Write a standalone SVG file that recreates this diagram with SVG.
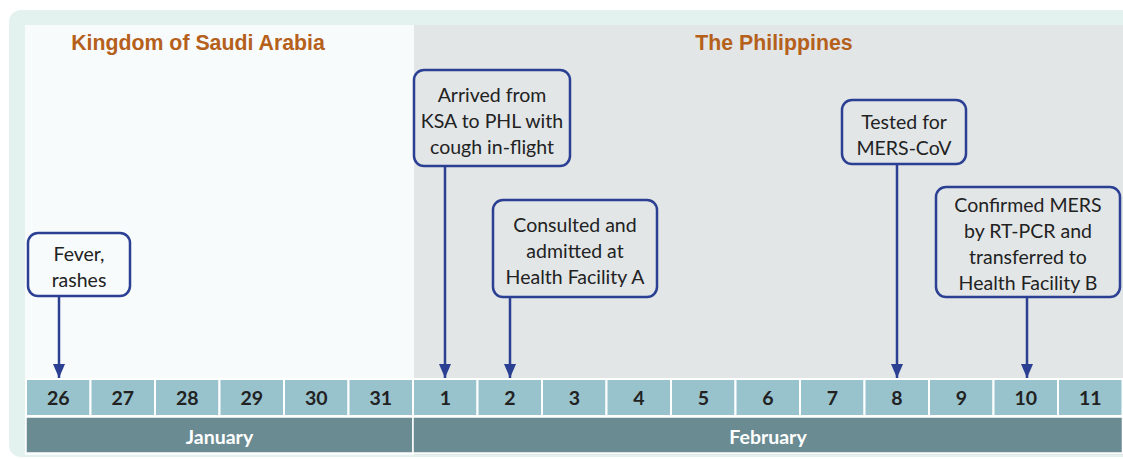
<svg xmlns="http://www.w3.org/2000/svg" width="1123" height="459" viewBox="0 0 1123 459">
<defs>
<style>
.box{fill:none;stroke:#2b3f93;stroke-width:2.5}
.bt{font-family:Lato,"Open Sans",sans-serif;font-size:19.5px;fill:#222;text-anchor:middle}
.hd{font-family:"Liberation Sans",Arial,sans-serif;font-size:21.3px;font-weight:bold;fill:#b5601b;text-anchor:middle}
.day{fill:#98c3cd;stroke:#fff;stroke-width:2}
.dt{font-family:Lato,"Open Sans",sans-serif;font-size:19.5px;font-weight:bold;fill:#222;text-anchor:middle}
.mo{fill:#6b8b92;stroke:#fff;stroke-width:1.5}
.mt{font-family:Lato,"Open Sans",sans-serif;font-size:19.5px;font-weight:bold;fill:#fff;text-anchor:middle}
.ln{stroke:#2b3f93;stroke-width:2.5;fill:none}
</style>
<marker id="ah" viewBox="0 0 14 12" refX="14" refY="6" markerWidth="14" markerHeight="12" markerUnits="userSpaceOnUse" orient="auto">
<path d="M0,0 L14,6 L0,12 Z" fill="#2b3f93"/>
</marker>
</defs>
<rect x="9" y="10" width="1130" height="447" rx="12" fill="#e3f2ef"/>
<rect x="25" y="25" width="389" height="430" fill="#f7fbfc"/>
<rect x="414" y="25" width="709" height="430" fill="#e2e6e7"/>
<text class="hd" x="198" y="50">Kingdom of Saudi Arabia</text>
<text class="hd" x="774" y="50">The Philippines</text>
<g id="days">
<rect class="day" x="26" y="379" width="64.5" height="37"/>
<rect class="day" x="90.5" y="379" width="64.5" height="37"/>
<rect class="day" x="155" y="379" width="64.5" height="37"/>
<rect class="day" x="219.5" y="379" width="64.5" height="37"/>
<rect class="day" x="284" y="379" width="64.5" height="37"/>
<rect class="day" x="348.5" y="379" width="64.5" height="37"/>
<rect class="day" x="413" y="379" width="64.5" height="37"/>
<rect class="day" x="477.5" y="379" width="64.5" height="37"/>
<rect class="day" x="542" y="379" width="64.5" height="37"/>
<rect class="day" x="606.5" y="379" width="64.5" height="37"/>
<rect class="day" x="671" y="379" width="64.5" height="37"/>
<rect class="day" x="735.5" y="379" width="64.5" height="37"/>
<rect class="day" x="800" y="379" width="64.5" height="37"/>
<rect class="day" x="864.5" y="379" width="64.5" height="37"/>
<rect class="day" x="929" y="379" width="64.5" height="37"/>
<rect class="day" x="993.5" y="379" width="64.5" height="37"/>
<rect class="day" x="1058" y="379" width="64.5" height="37"/>
<text class="dt" x="58.3" y="405">26</text>
<text class="dt" x="122.8" y="405">27</text>
<text class="dt" x="187.3" y="405">28</text>
<text class="dt" x="251.8" y="405">29</text>
<text class="dt" x="316.3" y="405">30</text>
<text class="dt" x="380.8" y="405">31</text>
<text class="dt" x="445.3" y="405">1</text>
<text class="dt" x="509.8" y="405">2</text>
<text class="dt" x="574.3" y="405">3</text>
<text class="dt" x="638.8" y="405">4</text>
<text class="dt" x="703.3" y="405">5</text>
<text class="dt" x="767.8" y="405">6</text>
<text class="dt" x="832.3" y="405">7</text>
<text class="dt" x="896.8" y="405">8</text>
<text class="dt" x="961.3" y="405">9</text>
<text class="dt" x="1025.8" y="405">10</text>
<text class="dt" x="1090.3" y="405">11</text>
</g>
<g id="months">
<rect class="mo" x="26" y="417" width="387" height="36"/>
<rect class="mo" x="413" y="417" width="709.5" height="36"/>
<text class="mt" x="219.5" y="444">January</text>
<text class="mt" x="768" y="444">February</text>
</g>
<g id="connectors">
<line class="ln" x1="59" y1="296" x2="59" y2="378" marker-end="url(#ah)"/>
<line class="ln" x1="445" y1="166" x2="445" y2="378" marker-end="url(#ah)"/>
<line class="ln" x1="510" y1="297" x2="510" y2="378" marker-end="url(#ah)"/>
<line class="ln" x1="897" y1="164" x2="897" y2="378" marker-end="url(#ah)"/>
<line class="ln" x1="1027" y1="297" x2="1027" y2="378" marker-end="url(#ah)"/>
</g>
<g id="n-fever">
<rect class="box" x="28" y="233" width="102" height="63" rx="10"/>
<text class="bt" x="79" y="261">Fever,</text>
<text class="bt" x="79" y="287">rashes</text>
</g>
<g id="n-arrived">
<rect class="box" x="414" y="70" width="156" height="96" rx="10"/>
<text class="bt" x="492" y="102">Arrived from</text>
<text class="bt" x="492" y="128">KSA to PHL with</text>
<text class="bt" x="492" y="154">cough in-flight</text>
</g>
<g id="n-consulted">
<rect class="box" x="493" y="200" width="164" height="97" rx="10"/>
<text class="bt" x="575" y="232">Consulted and</text>
<text class="bt" x="575" y="258">admitted at</text>
<text class="bt" x="575" y="284">Health Facility A</text>
</g>
<g id="n-tested">
<rect class="box" x="842" y="100" width="124" height="64" rx="10"/>
<text class="bt" x="904" y="129">Tested for</text>
<text class="bt" x="904" y="155">MERS-CoV</text>
</g>
<g id="n-confirmed">
<rect class="box" x="936" y="187" width="184" height="110" rx="10"/>
<text class="bt" x="1028" y="212">Confirmed MERS</text>
<text class="bt" x="1028" y="238">by RT-PCR and</text>
<text class="bt" x="1028" y="264">transferred to</text>
<text class="bt" x="1028" y="290">Health Facility B</text>
</g>
</svg>
